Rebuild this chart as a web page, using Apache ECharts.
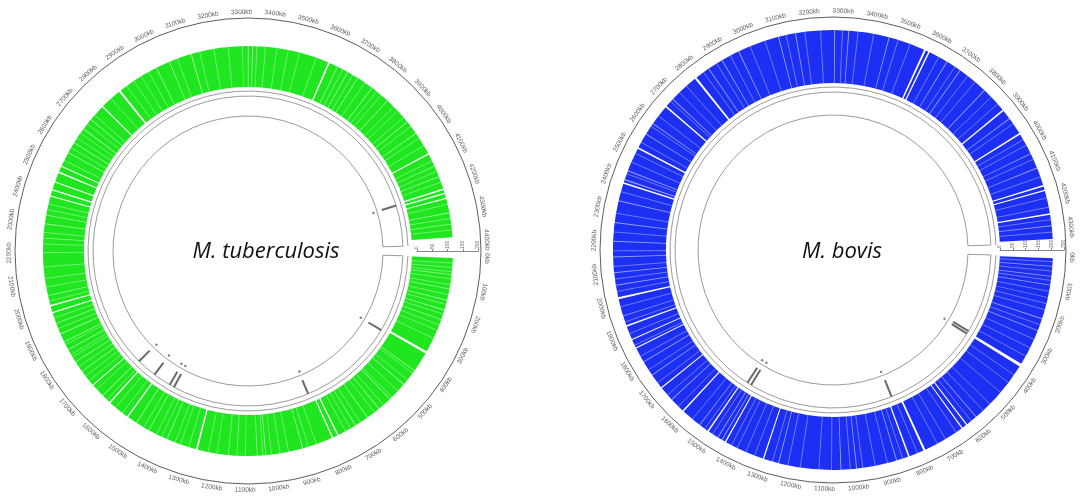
<!DOCTYPE html>
<html lang="en">
<head>
<meta charset="UTF-8">
<title>M. tuberculosis / M. bovis</title>
<script src="https://cdn.jsdelivr.net/npm/echarts@6.0.0/dist/echarts.min.js"></script>
<style>
    html, body { margin: 0; padding: 0; background: #fff; }
    #chart { width: 1084px; height: 501px; }
</style>
</head>
<body>
<div id="chart"></div>
<script>
// genome lengths in kb, and the blank left at the origin
var tbLength = 4411;
var bovisLength = 4345;
var originGap = 22;
var tickStep = 100;

// extent of the gene track
var tbBand = [2, 4385];
var bovisBand = [4, 4332];

// clear gaps in the gene track: [centre kb, width kb]
var tbGaps = [[345, 9], [770, 5], [790, 5], [1271, 6], [1537, 5], [1616, 5], [1700, 4],
    [1989, 4], [2014, 5], [2398, 4], [2420, 5], [2449, 4], [2485, 5], [2508, 4], [2760, 4],
    [2840, 7], [3607, 6], [4083, 5], [4216, 5], [4231, 5], [4249, 4]];
// faint gaps
var tbLight = [[60, 3], [110, 3], [150, 3], [185, 3], [220, 3], [420, 3], [480, 3], [550, 3],
    [600, 3], [650, 3], [700, 3], [900, 3], [1010, 2], [1030, 3], [1100, 2], [1200, 2], [1380, 3],
    [1450, 3], [1500, 3], [1650, 3], [1760, 3], [1800, 3], [1850, 3], [1880, 3], [1910, 4],
    [1950, 3], [2050, 3], [2200, 2], [2250, 3], [2300, 3], [2330, 3], [2560, 3], [2600, 3],
    [2658, 4], [2700, 3], [2990, 3], [3040, 3], [3120, 4], [3300, 2], [3320, 3], [3335, 3],
    [3640, 3], [3680, 3], [3720, 3], [3780, 3], [3850, 3], [3950, 3], [4000, 3], [4130, 3],
    [4170, 3], [4300, 3], [4340, 3]];
// hairline streaks (kb)
var tbHair = [20, 35, 50, 75, 95, 130, 165, 200, 240, 260, 290, 430, 460, 510, 540, 580, 620,
    680, 720, 740, 850, 880, 950, 980, 1040, 1060, 1130, 1160, 1230, 1300, 1330, 1350, 1400,
    1420, 1470, 1560, 1590, 1630, 1680, 1720, 1740, 1780, 1820, 1830, 1870, 1930, 1970, 2030,
    2080, 2110, 2150, 2230, 2270, 2350, 2370, 2530, 2580, 2620, 2640, 2680, 2720, 2800, 2870,
    2900, 2930, 2960, 3070, 3150, 3200, 3250, 3350, 3380, 3420, 3460, 3500, 3560, 3660, 3700,
    3750, 3800, 3820, 3880, 3900, 3930, 3970, 4020, 4050, 4110, 4150, 4190, 4270, 4320, 4360];

var bovisGaps = [[363, 10], [619, 4], [637, 4], [776, 7], [829, 5], [1300, 4], [1432, 4],
    [1497, 5], [1599, 5], [1700, 4], [1850, 4], [1880, 3], [1926, 5], [2018, 6], [2389, 5],
    [2509, 5], [2668, 5], [2799, 7], [3571, 6], [3585, 5], [3887, 5], [3978, 5], [4160, 5],
    [4175, 4], [4252, 5]];
var bovisLight = [[30, 3], [62, 3], [90, 3], [130, 2], [200, 3], [240, 3], [580, 3], [870, 3],
    [1000, 3], [1050, 3], [1250, 3], [1445, 3], [1460, 3], [1530, 3], [1650, 3], [1750, 3],
    [1800, 3], [1960, 3], [2060, 3], [2100, 3], [2150, 3], [2200, 3], [2260, 3], [2330, 3],
    [2400, 4], [2430, 3], [2560, 3], [2600, 3], [2700, 3], [2850, 3], [2900, 3], [2960, 3],
    [3095, 3], [3150, 3], [3275, 3], [3320, 3], [3450, 3], [3650, 3], [3700, 3], [3800, 3],
    [3920, 3], [4050, 3], [4100, 3], [4290, 3]];
var bovisHair = [15, 45, 75, 110, 150, 170, 220, 270, 300, 330, 400, 430, 470, 520, 550, 600,
    660, 700, 730, 800, 850, 900, 940, 980, 1020, 1080, 1120, 1180, 1220, 1270, 1330, 1360,
    1390, 1410, 1480, 1510, 1560, 1620, 1670, 1720, 1770, 1820, 1860, 1900, 1940, 1990, 2040,
    2080, 2120, 2170, 2230, 2290, 2360, 2420, 2460, 2490, 2530, 2590, 2630, 2690, 2730, 2760,
    2830, 2880, 2930, 3000, 3050, 3120, 3180, 3230, 3300, 3350, 3400, 3480, 3520, 3620, 3680,
    3730, 3760, 3830, 3860, 3940, 4000, 4020, 4070, 4130, 4200, 4230, 4270, 4310];

// features in the inner track (kb) and their small labels
var tbMarks = [358, 809, 1445, 1467, 1551, 1644, 4222];
var tbDots = [357, 806, 1446, 1470, 1551, 1640, 4225];
var bovisMarks = [355, 368, 810, 1456, 1475];
var bovisDots = [364, 813, 1448, 1474];

// scale of the gene track: min, max, step
var tbScale = [0, 200, 50];
var bovisScale = [0, 250, 50];

var plots = [
    { name: 'M. tuberculosis', length: tbLength, band: tbBand, gaps: tbGaps, light: tbLight,
      hair: tbHair, marks: tbMarks, dots: tbDots, scale: tbScale, color: '#1fe61f',
      center: [248, 251], bandR: [164, 205], lineR: 160, trackR: [135, 155], scaleR: [169, 230], titleX: 261 },
    { name: 'M. bovis', length: bovisLength, band: bovisBand, gaps: bovisGaps, light: bovisLight,
      hair: bovisHair, marks: bovisMarks, dots: bovisDots, scale: bovisScale, color: '#1c2ff2',
      center: [833, 250], bandR: [167, 220], lineR: 163, trackR: [135, 158], scaleR: [167, 231], titleX: 837 }
];

function angleOf(cs, p) {
    return Math.atan2(p[1] - cs.cy, p[0] - cs.cx);
}

function distOf(cs, p) {
    return Math.sqrt((p[0] - cs.cx) * (p[0] - cs.cx) + (p[1] - cs.cy) * (p[1] - cs.cy));
}

// item = [angle0, angle1, r0, r1]
function sectorItem(params, api) {
    var cs = params.coordSys;
    var p0 = api.coord([api.value(3), api.value(0)]);
    var p1 = api.coord([api.value(3), api.value(1)]);
    var q0 = api.coord([api.value(2), api.value(0)]);
    var s = angleOf(cs, p0), e = angleOf(cs, p1);
    if (e <= s) e += Math.PI * 2;
    return {
        type: 'sector',
        shape: { cx: cs.cx, cy: cs.cy, r0: distOf(cs, q0), r: distOf(cs, p0),
                 startAngle: s, endAngle: e, clockwise: true },
        style: api.style()
    };
}

function outlineItem(params, api) {
    var el = sectorItem(params, api);
    el.style = { fill: null, stroke: '#9a9a9a', lineWidth: 1 };
    return el;
}

function arcItem(params, api) {
    var cs = params.coordSys;
    var p0 = api.coord([api.value(2), api.value(0)]);
    var p1 = api.coord([api.value(2), api.value(1)]);
    var s = angleOf(cs, p0), e = angleOf(cs, p1);
    if (e <= s) e += Math.PI * 2;
    return {
        type: 'arc',
        shape: { cx: cs.cx, cy: cs.cy, r: distOf(cs, p0), startAngle: s, endAngle: e, clockwise: true },
        style: { fill: null, stroke: '#9a9a9a', lineWidth: 1 }
    };
}

function markItem(params, api) {
    var a = api.coord([api.value(2), api.value(0)]);
    var b = api.coord([api.value(3), api.value(0)]);
    return {
        type: 'line',
        shape: { x1: a[0], y1: a[1], x2: b[0], y2: b[1] },
        style: { stroke: api.visual('color'), lineWidth: api.value(4) }
    };
}

function fillSegments(band, gaps) {
    var segs = [], s = band[0];
    gaps.slice().sort(function (a, b) { return a[0] - b[0]; }).forEach(function (g) {
        var a = g[0] - g[1] / 2, b = g[0] + g[1] / 2;
        if (a > s) segs.push([s, a]);
        s = b;
    });
    if (band[1] > s) segs.push([s, band[1]]);
    return segs;
}

function labelRotate(kb, min, max) {
    var t = (kb - min) / (max - min) * 360;
    var rot = (t > 18 && t < 172) ? 90 - t : -(t + 90);
    while (rot < -180) rot += 360;
    while (rot > 180) rot -= 360;
    return rot;
}

var polar = [], angleAxis = [], radiusAxis = [], series = [], title = [];
var bare = { axisLine: { show: false }, axisTick: { show: false }, axisLabel: { show: false }, splitLine: { show: false } };

plots.forEach(function (pl, k) {
    var base = k * 3;
    var amin = -originGap, amax = pl.length + originGap;
    var outerR = 233, labelR = 239;

    polar.push({ center: pl.center, radius: 250 });
    polar.push({ center: pl.center, radius: outerR });
    polar.push({ center: pl.center, radius: pl.scaleR });

    for (var i = 0; i < 3; i++) {
        angleAxis.push(Object.assign({ polarIndex: base + i, type: 'value', min: amin, max: amax,
            startAngle: 0, clockwise: true }, bare,
            i === 1 ? { axisLine: { show: true, lineStyle: { color: '#333', width: 0.8 } } } : {}));
    }
    radiusAxis.push(Object.assign({ polarIndex: base, type: 'value', min: 0, max: 250 }, bare));
    radiusAxis.push(Object.assign({ polarIndex: base + 1, type: 'value', min: 0, max: outerR }, bare));
    radiusAxis.push({
        polarIndex: base + 2, type: 'value', min: pl.scale[0], max: pl.scale[1], interval: pl.scale[2],
        axisLine: { show: true, lineStyle: { color: '#888', width: 1 } },
        axisTick: { show: true, length: 2, lineStyle: { color: '#888' } },
        axisLabel: { show: true, fontSize: 5, color: '#666', rotate: 90, margin: 2, fontFamily: 'Liberation Sans' },
        splitLine: { show: false }
    });

    series.push({
        type: 'custom', coordinateSystem: 'polar', polarIndex: base, silent: true,
        itemStyle: { color: pl.color },
        encode: { angle: [0, 1], radius: [2, 3] },
        renderItem: sectorItem,
        data: fillSegments(pl.band, pl.gaps).map(function (s) { return [s[0], s[1], pl.bandR[0], pl.bandR[1]]; })
    });
    series.push({
        type: 'custom', coordinateSystem: 'polar', polarIndex: base, silent: true,
        itemStyle: { color: 'rgba(255,255,255,0.55)' },
        encode: { angle: [0, 1], radius: [2, 3] },
        renderItem: sectorItem,
        data: pl.light.map(function (g) { return [g[0] - g[1] / 2, g[0] + g[1] / 2, pl.bandR[0], pl.bandR[1]]; })
    });
    series.push({
        type: 'custom', coordinateSystem: 'polar', polarIndex: base, silent: true,
        itemStyle: { color: 'rgba(255,255,255,0.45)' },
        encode: { angle: 0, radius: [2, 3] },
        renderItem: markItem,
        data: pl.hair.map(function (h) { return [h, h, pl.bandR[0], pl.bandR[1], 0.8]; })
    });
    series.push({
        type: 'custom', coordinateSystem: 'polar', polarIndex: base, silent: true,
        encode: { angle: [0, 1], radius: [2, 3] },
        renderItem: outlineItem,
        data: [[0, pl.length, pl.trackR[0], pl.trackR[1]]]
    });
    series.push({
        type: 'custom', coordinateSystem: 'polar', polarIndex: base, silent: true,
        encode: { angle: [0, 1], radius: 2 },
        renderItem: arcItem,
        data: [[0, pl.length, pl.lineR]]
    });
    series.push({
        type: 'custom', coordinateSystem: 'polar', polarIndex: base, silent: true,
        itemStyle: { color: '#6a6a6a' },
        encode: { angle: 0, radius: [2, 3] },
        renderItem: markItem,
        data: pl.marks.map(function (m) { return [m, m, pl.trackR[0] + 5, pl.trackR[1], 2]; })
    });
    series.push({
        type: 'scatter', coordinateSystem: 'polar', polarIndex: base, silent: true,
        symbolSize: 2.5, itemStyle: { color: '#666' },
        data: pl.dots.map(function (d) { return [pl.trackR[0] - 4, d]; })
    });

    var ticks = [];
    for (var t = 0; t <= pl.length; t += tickStep) ticks.push(t);
    series.push({
        type: 'scatter', coordinateSystem: 'polar', polarIndex: base, silent: true,
        symbolSize: 1, itemStyle: { color: 'rgba(0,0,0,0)' },
        label: {
            show: true, position: 'inside', fontSize: 6.5, color: '#333', fontFamily: 'Liberation Sans',
            align: 'center', verticalAlign: 'middle',
            formatter: function (p) { return p.value[1] + 'kb'; }
        },
        data: ticks.map(function (v) {
            return { value: [labelR, v], label: { rotate: labelRotate(v, amin, amax) } };
        })
    });

    title.push({
        text: pl.name, left: pl.titleX, top: 236, textAlign: 'center',
        textStyle: { fontFamily: 'Open Sans', fontStyle: 'italic', fontWeight: 'normal', fontSize: 22, color: '#111' }
    });
});

var chart = echarts.init(document.getElementById('chart'));
chart.setOption({
    animation: false,
    title: title,
    polar: polar,
    angleAxis: angleAxis,
    radiusAxis: radiusAxis,
    series: series
});
</script>
</body>
</html>
